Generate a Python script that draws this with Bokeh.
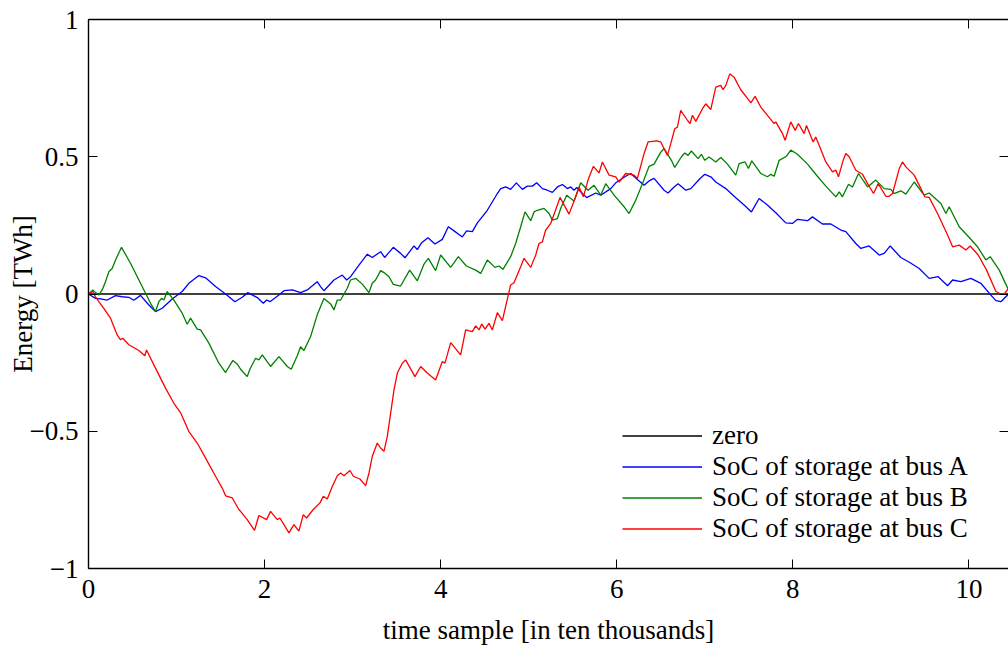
from bokeh.plotting import figure
from bokeh.models import Range1d, LinearAxis, FixedTicker, Legend, LegendItem
from bokeh.embed import file_html
from bokeh.resources import INLINE

# ---- data (x in ten thousands of time samples, y in TWh) ----
x_ticks = [0, 2, 4, 6, 8, 10]
y_ticks = [-1, -0.5, 0, 0.5, 1]
y_tick_labels = ["\u22121", "\u22120.5", "0", "0.5", "1"]

zero_x = [0.0, 10.45]
zero_y = [0.0, 0.0]

blue_x = [0.0, 0.08, 0.136, 0.212, 0.307, 0.383, 0.458, 0.515, 0.591, 0.686, 0.761, 0.837, 0.951, 1.064, 1.14,
          1.254, 1.33, 1.443, 1.557, 1.663, 1.746, 1.811, 1.917, 1.985, 2.023, 2.061, 2.163, 2.22, 2.314, 2.409,
          2.485, 2.598, 2.636, 2.674, 2.788, 2.883, 2.932, 2.977, 3.072, 3.167, 3.223, 3.318, 3.364, 3.462, 3.545,
          3.595, 3.697, 3.735, 3.784, 3.856, 3.936, 4.019, 4.087, 4.152, 4.246, 4.295, 4.36, 4.417, 4.53, 4.644,
          4.682, 4.739, 4.795, 4.86, 4.928, 4.985, 5.042, 5.091, 5.155, 5.212, 5.269, 5.326, 5.383, 5.439, 5.477,
          5.515, 5.545, 5.61, 5.659, 5.761, 5.818, 5.932, 5.989, 6.102, 6.159, 6.242, 6.311, 6.367, 6.424, 6.538,
          6.583, 6.652, 6.697, 6.784, 6.841, 6.947, 7.0, 7.068, 7.125, 7.239, 7.333, 7.447, 7.53, 7.617, 7.701,
          7.807, 7.92, 7.996, 8.053, 8.167, 8.223, 8.337, 8.432, 8.545, 8.602, 8.716, 8.773, 8.867, 8.981, 9.038,
          9.106, 9.227, 9.333, 9.436, 9.549, 9.651, 9.758, 9.815, 9.909, 10.023, 10.136, 10.25, 10.307, 10.364, 10.45]
blue_y = [0.0, -0.016, -0.018, -0.022, -0.006, -0.01, -0.012, -0.023, -0.005, -0.04, -0.064, -0.052, -0.018, 0.009, 0.039,
          0.067, 0.059, 0.027, 0.0, -0.028, -0.012, 0.005, -0.013, -0.034, -0.022, -0.028, -0.004, 0.012, 0.015, 0.005,
          0.015, 0.045, 0.027, 0.012, 0.051, 0.069, 0.051, 0.063, 0.105, 0.145, 0.133, 0.154, 0.133, 0.17, 0.148,
          0.132, 0.175, 0.162, 0.187, 0.205, 0.182, 0.199, 0.245, 0.23, 0.208, 0.23, 0.227, 0.259, 0.305, 0.366,
          0.384, 0.39, 0.381, 0.405, 0.381, 0.393, 0.393, 0.405, 0.384, 0.378, 0.37, 0.39, 0.399, 0.384, 0.39,
          0.378, 0.388, 0.366, 0.351, 0.368, 0.36, 0.384, 0.405, 0.429, 0.439, 0.415, 0.396, 0.412, 0.421, 0.378,
          0.368, 0.39, 0.402, 0.378, 0.384, 0.421, 0.436, 0.427, 0.408, 0.384, 0.356, 0.324, 0.299, 0.348, 0.327,
          0.296, 0.259, 0.257, 0.272, 0.267, 0.281, 0.255, 0.255, 0.233, 0.227, 0.184, 0.166, 0.175, 0.142, 0.148,
          0.175, 0.133, 0.114, 0.093, 0.057, 0.063, 0.03, 0.051, 0.045, 0.057, 0.039, -0.004, -0.024, -0.028, 0.0]

green_x = [0.0, 0.049, 0.08, 0.117, 0.155, 0.193, 0.231, 0.269, 0.307, 0.375, 0.477, 0.591, 0.705, 0.761, 0.799,
           0.83, 0.856, 0.894, 0.97, 1.064, 1.121, 1.159, 1.235, 1.273, 1.367, 1.481, 1.557, 1.64, 1.689, 1.727,
           1.803, 1.833, 1.898, 1.935, 1.974, 2.068, 2.163, 2.258, 2.303, 2.371, 2.409, 2.447, 2.523, 2.598, 2.674,
           2.75, 2.788, 2.826, 2.864, 2.939, 2.977, 3.034, 3.11, 3.186, 3.223, 3.261, 3.318, 3.356, 3.413, 3.462,
           3.545, 3.648, 3.735, 3.811, 3.86, 3.943, 4.0, 4.114, 4.201, 4.292, 4.398, 4.455, 4.53, 4.617, 4.663,
           4.708, 4.795, 4.852, 4.909, 4.958, 5.023, 5.061, 5.099, 5.174, 5.231, 5.269, 5.326, 5.364, 5.432, 5.515,
           5.591, 5.674, 5.742, 5.818, 5.875, 5.97, 6.083, 6.14, 6.216, 6.292, 6.367, 6.424, 6.5, 6.538, 6.621,
           6.659, 6.735, 6.773, 6.81, 6.848, 6.924, 6.962, 7.0, 7.049, 7.125, 7.182, 7.258, 7.352, 7.39, 7.458,
           7.496, 7.534, 7.636, 7.712, 7.75, 7.788, 7.845, 7.928, 7.977, 8.053, 8.167, 8.28, 8.375, 8.489, 8.527,
           8.564, 8.633, 8.678, 8.746, 8.849, 8.943, 9.038, 9.114, 9.151, 9.227, 9.284, 9.379, 9.492, 9.549, 9.682,
           9.739, 9.776, 9.89, 10.004, 10.098, 10.193, 10.242, 10.345, 10.45]
green_y = [0.0, 0.015, 0.005, -0.004, 0.015, 0.045, 0.081, 0.093, 0.124, 0.17, 0.112, 0.039, -0.034, -0.064, -0.028,
           -0.016, -0.022, 0.009, -0.022, -0.07, -0.11, -0.088, -0.128, -0.131, -0.179, -0.252, -0.286, -0.242, -0.255, -0.274,
           -0.301, -0.274, -0.234, -0.24, -0.222, -0.264, -0.228, -0.264, -0.274, -0.225, -0.192, -0.206, -0.155, -0.076, -0.016,
           -0.036, -0.058, -0.022, -0.022, 0.021, 0.051, 0.057, 0.036, 0.005, 0.039, 0.051, 0.085, 0.078, 0.063, 0.035,
           0.029, 0.087, 0.048, 0.109, 0.13, 0.085, 0.142, 0.097, 0.136, 0.102, 0.087, 0.075, 0.124, 0.097, 0.102,
           0.09, 0.136, 0.184, 0.245, 0.299, 0.267, 0.299, 0.305, 0.312, 0.293, 0.269, 0.275, 0.312, 0.36, 0.339,
           0.405, 0.378, 0.396, 0.36, 0.402, 0.36, 0.318, 0.293, 0.342, 0.402, 0.465, 0.473, 0.517, 0.53, 0.487,
           0.461, 0.5, 0.514, 0.505, 0.521, 0.493, 0.509, 0.487, 0.499, 0.481, 0.497, 0.473, 0.433, 0.475, 0.481,
           0.457, 0.485, 0.439, 0.427, 0.436, 0.429, 0.487, 0.502, 0.524, 0.509, 0.473, 0.429, 0.393, 0.354, 0.372,
           0.354, 0.4, 0.39, 0.439, 0.39, 0.415, 0.384, 0.381, 0.366, 0.376, 0.364, 0.408, 0.36, 0.368, 0.33,
           0.293, 0.318, 0.245, 0.206, 0.172, 0.124, 0.136, 0.087, 0.015]

red_x = [0.0, 0.049, 0.08, 0.117, 0.174, 0.25, 0.326, 0.364, 0.39, 0.458, 0.572, 0.64, 0.659, 0.761, 0.875,
         0.97, 1.045, 1.14, 1.235, 1.33, 1.443, 1.519, 1.557, 1.633, 1.708, 1.727, 1.803, 1.886, 1.935, 2.023,
         2.068, 2.144, 2.174, 2.277, 2.333, 2.39, 2.439, 2.477, 2.553, 2.629, 2.667, 2.712, 2.769, 2.826, 2.864,
         2.902, 2.97, 3.008, 3.083, 3.148, 3.186, 3.223, 3.28, 3.318, 3.356, 3.394, 3.432, 3.47, 3.508, 3.564,
         3.602, 3.708, 3.773, 3.848, 3.943, 4.019, 4.049, 4.114, 4.227, 4.284, 4.36, 4.398, 4.436, 4.466, 4.504,
         4.549, 4.587, 4.644, 4.701, 4.795, 4.833, 4.909, 4.947, 5.023, 5.08, 5.117, 5.155, 5.193, 5.25, 5.326,
         5.356, 5.458, 5.534, 5.572, 5.621, 5.674, 5.735, 5.799, 5.837, 5.913, 5.989, 6.027, 6.102, 6.197, 6.235,
         6.311, 6.356, 6.455, 6.5, 6.576, 6.614, 6.659, 6.689, 6.727, 6.803, 6.833, 6.86, 6.898, 6.974, 7.011,
         7.068, 7.125, 7.182, 7.208, 7.239, 7.284, 7.333, 7.409, 7.496, 7.523, 7.572, 7.636, 7.712, 7.788, 7.807,
         7.883, 7.913, 7.977, 8.027, 8.064, 8.129, 8.155, 8.231, 8.261, 8.375, 8.451, 8.489, 8.519, 8.572, 8.602,
         8.64, 8.716, 8.792, 8.849, 8.917, 8.97, 9.057, 9.095, 9.133, 9.209, 9.246, 9.284, 9.379, 9.455, 9.5,
         9.549, 9.644, 9.758, 9.815, 9.89, 9.966, 10.015, 10.106, 10.201, 10.307, 10.364, 10.402, 10.45]
red_y = [0.0, 0.009, -0.01, -0.028, -0.052, -0.088, -0.149, -0.167, -0.161, -0.185, -0.206, -0.225, -0.204, -0.27, -0.343,
         -0.398, -0.432, -0.501, -0.543, -0.598, -0.664, -0.707, -0.735, -0.743, -0.785, -0.792, -0.822, -0.861, -0.807, -0.822,
         -0.792, -0.822, -0.816, -0.87, -0.84, -0.864, -0.804, -0.816, -0.785, -0.761, -0.737, -0.747, -0.701, -0.662, -0.652,
         -0.662, -0.643, -0.664, -0.674, -0.698, -0.652, -0.592, -0.543, -0.561, -0.573, -0.519, -0.434, -0.349, -0.288, -0.252,
         -0.24, -0.301, -0.264, -0.288, -0.313, -0.246, -0.252, -0.177, -0.222, -0.131, -0.137, -0.116, -0.131, -0.109, -0.128,
         -0.107, -0.131, -0.068, -0.097, 0.033, 0.041, 0.099, 0.13, 0.097, 0.142, 0.184, 0.19, 0.233, 0.257, 0.324,
         0.352, 0.291, 0.354, 0.39, 0.354, 0.415, 0.465, 0.441, 0.481, 0.433, 0.427, 0.408, 0.439, 0.433, 0.421,
         0.512, 0.554, 0.558, 0.554, 0.505, 0.548, 0.602, 0.608, 0.669, 0.633, 0.621, 0.651, 0.629, 0.675, 0.693,
         0.672, 0.754, 0.76, 0.744, 0.76, 0.802, 0.79, 0.744, 0.708, 0.696, 0.72, 0.681, 0.651, 0.621, 0.627,
         0.584, 0.56, 0.627, 0.596, 0.621, 0.584, 0.614, 0.554, 0.572, 0.481, 0.445, 0.451, 0.427, 0.487, 0.512,
         0.5, 0.451, 0.436, 0.402, 0.366, 0.402, 0.356, 0.356, 0.366, 0.457, 0.481, 0.463, 0.433, 0.384, 0.354,
         0.352, 0.293, 0.215, 0.172, 0.178, 0.16, 0.175, 0.142, 0.087, 0.009, 0.0, 0.0, 0.021]

labels = ["zero", "SoC of storage at bus A", "SoC of storage at bus B", "SoC of storage at bus C"]
colors = ["#000000", "#0000ff", "#008000", "#ff0000"]

FONT = "Liberation Serif"
FS = "27px"

p = figure(width=1008, height=647, output_backend="svg", toolbar_location=None,
           x_range=Range1d(0, 10.45), y_range=Range1d(-1, 1),
           x_axis_location=None, y_axis_location=None)
p.min_border_left = 88
p.min_border_right = 0
p.min_border_top = 19
p.min_border_bottom = 78
p.outline_line_color = None
p.xgrid.visible = False
p.ygrid.visible = False
p.background_fill_color = "white"
p.border_fill_color = "white"

overrides = {t: s for t, s in zip(y_ticks, y_tick_labels)}


def style(ax, labels_on=True):
    ax.axis_line_color = "black"
    ax.axis_line_width = 1.4
    ax.major_tick_in = 9
    ax.major_tick_out = 0
    ax.major_tick_line_color = "black"
    ax.major_tick_line_width = 1
    ax.minor_tick_line_color = None
    ax.major_label_text_font = FONT
    if labels_on:
        ax.major_label_text_font_size = FS
        ax.major_label_text_color = "black"
    else:
        ax.major_label_text_font_size = "1px"
        ax.major_label_text_color = None
    ax.axis_label_text_font = FONT
    ax.axis_label_text_font_size = FS
    ax.axis_label_text_font_style = "normal"
    ax.axis_label_text_color = "black"


left = LinearAxis(ticker=FixedTicker(ticks=y_ticks), axis_label="Energy [TWh]")
style(left)
left.major_label_overrides = overrides
left.major_label_standoff = 10
left.axis_label_standoff = -11
p.add_layout(left, "left")

bottom = LinearAxis(ticker=FixedTicker(ticks=x_ticks), axis_label="time sample [in ten thousands]")
style(bottom)
bottom.major_label_standoff = 11
bottom.axis_label_standoff = 14
p.add_layout(bottom, "below")

top = LinearAxis(ticker=FixedTicker(ticks=x_ticks))
style(top, labels_on=False)
top.major_label_standoff = 0
p.add_layout(top, "above")

right = LinearAxis(ticker=FixedTicker(ticks=y_ticks))
style(right, labels_on=False)
right.axis_line_color = None
right.major_label_standoff = 0
p.add_layout(right, "right")

series = [(zero_x, zero_y), (blue_x, blue_y), (green_x, green_y), (red_x, red_y)]
items = []
for (xs, ys), lab, col in zip(series, labels, colors):
    r = p.line(xs, ys, line_color=col, line_width=1.3)
    items.append(LegendItem(label=lab, renderers=[r]))

legend = Legend(items=items, location=(534, 24), glyph_width=80, glyph_height=31,
                label_height=31, label_standoff=10, spacing=0, padding=0, margin=0,
                border_line_color=None, background_fill_alpha=0,
                label_text_font=FONT, label_text_font_size=FS, label_text_color="black")
p.add_layout(legend, "center")

open("out.html", "w").write(file_html(p, INLINE))
